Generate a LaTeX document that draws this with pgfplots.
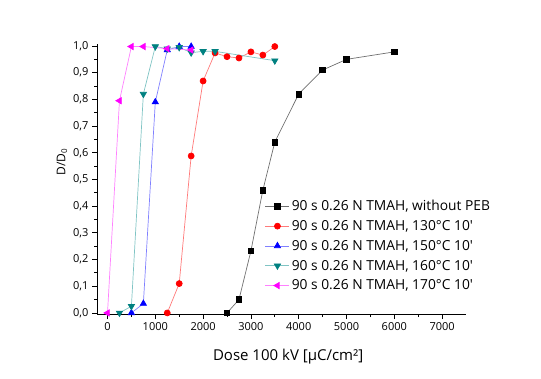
\documentclass[border=0pt]{standalone}
\usepackage{fontspec}
\setmainfont{Open Sans}
\usepackage{pgfplots}
\pgfplotsset{compat=1.18}
\definecolor{cteal}{HTML}{008080}
\definecolor{lteal}{HTML}{80C4C4}
\definecolor{lred}{HTML}{FF7A7A}
\definecolor{lblue}{HTML}{8080FF}
\definecolor{cmag}{HTML}{FF00FF}
\definecolor{lmag}{HTML}{FF80FF}
\definecolor{lgray}{HTML}{707070}
\begin{document}
\begin{tikzpicture}
\begin{axis}[
  name=ax, at={(0,0)}, anchor=south west,
  scale only axis, width=369pt, height=270pt,
  xmin=-220, xmax=7500, ymin=-0.004, ymax=1.0075,
  axis lines*=left,
  axis line style={line width=0.9pt},
  tick align=outside,
  major tick length=5pt, minor tick length=3pt,
  tick style={black, line width=0.8pt},
  xtick={0,1000,...,7000}, ytick={0,0.1,...,1.0},
  minor x tick num=1, minor y tick num=1,
  scaled x ticks=false,
  xticklabel style={/pgf/number format/1000 sep={}},
  yticklabel style={/pgf/number format/.cd, fixed, fixed zerofill, precision=1, use comma},
  /pgf/number format/assume math mode=true,
  ticklabel style={font=\fontsize{11}{13}\selectfont},
  xlabel={Dose 100 kV [µC/cm²]},
  ylabel={D/D\textsubscript{0}},
  xlabel style={font=\fontsize{15}{18}\selectfont, at={(axis description cs:0.518,-0.159)}, anchor=center},
  ylabel style={font=\fontsize{12}{14}\selectfont, at={(axis description cs:-0.095,0.563)}, anchor=center},
  legend style={draw=none, fill=none, at={(rel axis cs:0.455,0.43)}, anchor=north west,
    font=\fontsize{13.8}{16.5}\selectfont, row sep=4.3pt, inner sep=0pt},
  legend cell align=left,
  legend image code/.code={
    \draw[mark repeat=2,mark phase=2] plot coordinates {(0pt,0pt) (12pt,0pt) (24pt,0pt)};
  },
  every axis plot/.append style={line width=0.7pt},
]
\addplot[lgray, mark=square*, mark size=2.8pt, mark options={black, fill=black}] coordinates {
(2500,0.0) (2750,0.05) (3000,0.232) (3250,0.46) (3500,0.64) (4000,0.82) (4500,0.91) (5000,0.95) (6000,0.978)};
\addlegendentry{90 s 0.26 N TMAH, without PEB}
\addplot[lred, mark=*, mark size=3pt, mark options={red, fill=red}] coordinates {
(1250,0.0) (1500,0.11) (1750,0.588) (2000,0.869) (2250,0.974) (2500,0.96) (2750,0.955) (3000,0.978) (3250,0.966) (3500,0.998)};
\addlegendentry{90 s 0.26 N TMAH, 130°C 10\textquotesingle}
\addplot[lblue, mark=triangle*, mark size=3.6pt, mark options={blue, fill=blue}] coordinates {
(500,0.0) (750,0.035) (1000,0.79) (1250,0.985) (1500,0.998) (1750,0.998)};
\addlegendentry{90 s 0.26 N TMAH, 150°C 10\textquotesingle}
\addplot[lteal, mark=triangle*, mark size=3.6pt, mark options={cteal, fill=cteal, rotate=180}] coordinates {
(250,0.0) (500,0.025) (750,0.82) (1000,0.998) (1250,0.99) (1500,0.995) (1750,0.975) (2000,0.98) (2250,0.98) (3500,0.945)};
\addlegendentry{90 s 0.26 N TMAH, 160°C 10\textquotesingle}
\addplot[lmag, mark=triangle*, mark size=3.6pt, mark options={cmag, fill=cmag, rotate=90}] coordinates {
(0,0.0) (250,0.795) (500,0.998) (750,0.998) (1250,0.99) (1750,0.985)};
\addlegendentry{90 s 0.26 N TMAH, 170°C 10\textquotesingle}
\end{axis}
\pgfresetboundingbox
\path (ax.south west) ++(-97pt,-64pt) rectangle ++(541pt,378pt);
\end{tikzpicture}
\end{document}
